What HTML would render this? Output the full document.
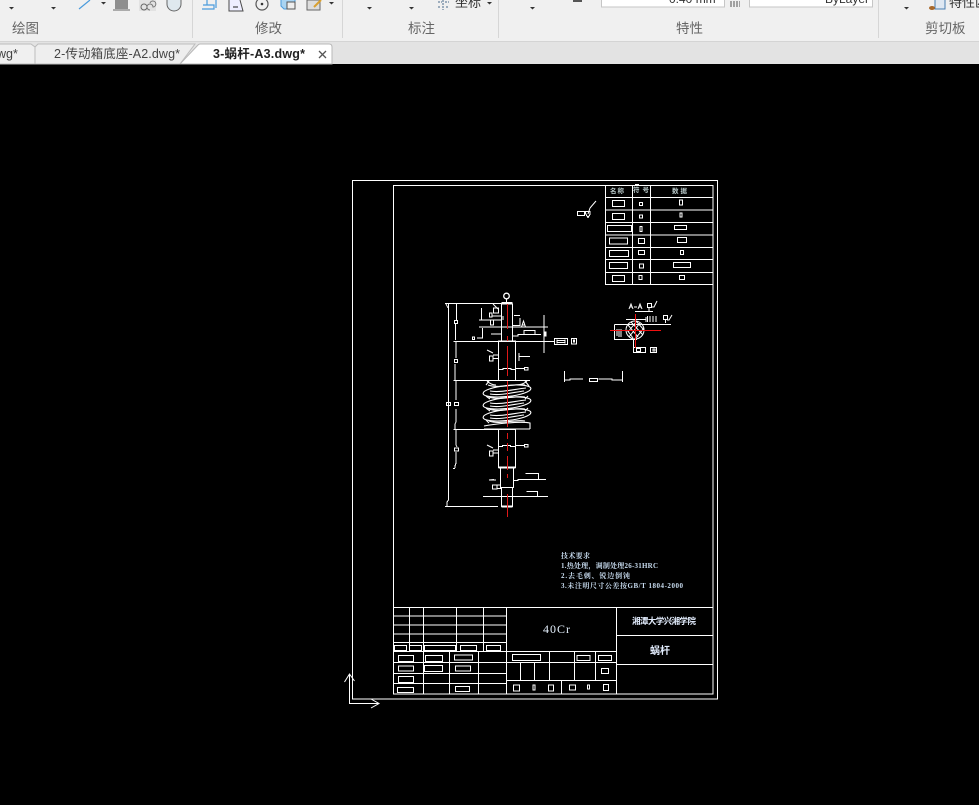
<!DOCTYPE html>
<html><head><meta charset="utf-8"><style>
html,body{margin:0;padding:0;width:979px;height:805px;overflow:hidden;background:#000}
svg{display:block}
text{font-family:"Liberation Sans","Noto Sans CJK SC",sans-serif}
text.s{font-family:"Liberation Serif","Noto Serif CJK SC",serif}
</style></head><body>
<svg xmlns="http://www.w3.org/2000/svg" width="979" height="805" viewBox="0 0 979 805">
<rect width="979" height="805" fill="#000"/>
<!-- ribbon -->
<rect width="979" height="41" fill="#f0f0f0"/>
<rect y="41" width="979" height="1" fill="#d4d4d4"/>
<rect y="42" width="979" height="22" fill="#e3e3e3"/>
<g stroke="#d6d6d6" stroke-width="1" shape-rendering="crispEdges">
<path d="M192.500 0V38M342.500 0V38M498.500 0V38M878.500 0V38"/>
</g>
<g fill="#666" font-size="13.500">
<text x="12" y="33">绘图</text><text x="255" y="33">修改</text><text x="408" y="33">标注</text><text x="676" y="33">特性</text><text x="925" y="33">剪切板</text>
</g>
<g fill="#333">
<path d="M9 7h5l-2.500 2.500zM51 7h5l-2.500 2.500zM101 2h5l-2.500 2.500zM329 2h5l-2.500 2.500zM367 7h5l-2.500 2.500zM409 7h5l-2.500 2.500zM530 7h5l-2.500 2.500zM904 7h5l-2.500 2.500zM487 2h5l-2.500 2.500z"/>
</g>
<!-- ribbon icons -->
<path d="M79 9L90 0" stroke="#4a9bdc" stroke-width="1.200" fill="none"/>
<rect x="115" y="0" width="13" height="9" fill="#8e8e8e"/>
<path d="M113 10h17" stroke="#666"/>
<rect x="139" y="0" width="17" height="11" fill="#e2e2e2"/>
<circle cx="144" cy="7" r="3" fill="none" stroke="#666"/>
<path d="M150 3a3 3 0 1 1 3 4a3 3 0 1 0 -3 3" fill="none" stroke="#777"/>
<path d="M167 0v4a7 7 0 0 0 14 0v-4" fill="#dfe8ee" stroke="#666"/>
<path d="M203 5h11v4h-12M207 0v5M216 0v8" stroke="#4a9bdc" fill="none" stroke-width="1.200"/>
<path d="M229 0v11h14l-3-11" fill="#eef" stroke="#4a4a4a"/><path d="M233 7h5" stroke="#222"/>
<circle cx="262" cy="4" r="6" fill="none" stroke="#555" stroke-width="1.200"/><circle cx="262" cy="4" r="1.300" fill="#333"/>
<path d="M281 0v6l3 3h11v-9" fill="#a9d4f2" stroke="#4a9bdc"/>
<rect x="287" y="2" width="8" height="7" fill="#eee" stroke="#555"/>
<rect x="307" y="0" width="13" height="10" fill="#ddd" stroke="#666"/><path d="M314 7l7-7" stroke="#d9a030" stroke-width="2"/>
<path d="M438 2h4M445 2h4M438 7h3M446 7h3M443 0v10" stroke="#4a6a8a" stroke-dasharray="2 1" fill="none"/>
<text x="455" y="7" font-size="13" fill="#333">坐标</text>
<rect x="573" y="0" width="9" height="2" fill="#555"/>
<!-- inputs -->
<rect x="601.500" y="-3" width="123" height="10" fill="#fff" stroke="#c6c6c6"/>
<rect x="749.500" y="-3" width="123" height="10" fill="#fff" stroke="#c6c6c6"/>
<text x="669" y="3" font-size="12" fill="#333">0.40 mm</text>
<text x="825" y="3" font-size="12" fill="#333">ByLayer</text>
<path d="M730 2h10M730 4h10M730 6h10" stroke="#555" stroke-dasharray="2 1"/>
<rect x="935" y="-1" width="10" height="10" fill="#dfe8f2" stroke="#4a7eb0"/>
<ellipse cx="932" cy="8" rx="3" ry="2" fill="#a8682a"/>
<text x="949" y="7" font-size="13" fill="#333">特性匹配</text>
<!-- tabs -->
<path d="M-2 64V44H31l4 3V64z" fill="#f0f0f0" stroke="#bdbdbd"/>
<path d="M35 64V47l3-3H195l-15 20z" fill="#eeeeee" stroke="#bdbdbd"/>
<path d="M180 64L198 45q1-1 2-1H329q3 0 3 3V64z" fill="#fff" stroke="#b8b8b8"/>
<text x="-3" y="58" font-size="12.500" fill="#444">wg*</text>
<text x="54" y="58" font-size="12.500" fill="#444" textLength="126">2-传动箱底座-A2.dwg*</text>
<text x="213" y="58" font-size="12.500" fill="#222" font-weight="bold" textLength="92">3-蜗杆-A3.dwg*</text>
<path d="M319 51l7 7M326 51l-7 7" stroke="#555" stroke-width="1.300"/>

<!-- frames -->
<g fill="none" stroke="#fff" stroke-width="1" shape-rendering="crispEdges">
<rect x="352.500" y="180.500" width="365" height="518.500"/>
<rect x="393.500" y="185.500" width="319.500" height="508.500"/>
<!-- parts table -->
<path d="M605.500 185.500V284.500H713M605.500 197.500H713M605.500 210H713M605.500 222.500H713M605.500 235H713M605.500 247.500H713M605.500 259.500H713M605.500 272.500H713M632.500 185.500V284.500M650.500 185.500V284.500"/>
<rect x="612.500" y="200.500" width="12" height="6"/><rect x="612.500" y="213.500" width="12" height="6"/><rect x="607.500" y="225.500" width="24" height="6"/><rect x="609.500" y="238" width="18" height="6"/><rect x="609.500" y="250.500" width="19" height="6"/><rect x="609.500" y="262.500" width="18" height="6"/><rect x="612.500" y="275.500" width="12" height="6"/>
<rect x="639.500" y="202.500" width="3" height="3"/><rect x="639.500" y="215" width="3" height="3"/><rect x="640" y="226.500" width="2" height="5"/><rect x="638.500" y="238.500" width="6" height="5"/><rect x="638.500" y="250.500" width="6" height="4"/><rect x="639.500" y="264" width="4" height="4"/><rect x="639" y="275.500" width="3" height="4"/>
<rect x="679.500" y="200" width="3" height="5"/><rect x="680" y="213" width="2" height="4"/><rect x="674.500" y="225.500" width="12" height="4"/><rect x="677.500" y="237.500" width="9" height="5"/><rect x="680.500" y="250.500" width="3" height="4"/><rect x="673.500" y="262.500" width="17" height="5"/><rect x="679.500" y="275.500" width="5" height="4"/>
<rect x="577.500" y="211.500" width="7" height="4"/><path d="M585 211.500h5v3l-2 3l-2-3z"/>

<!-- title block -->
<path d="M393.500 607.500H713M506.500 607.500V694M616.500 607.500V694M393.500 616H506.500M393.500 625H506.500M393.500 634H506.500M393.500 642.500H506.500M393.500 651.500H616.500M409.500 607.500V651.500M423.500 607.500V694M456.500 607.500V651.500M483.500 607.500V651.500"/>
<path d="M393.500 662.500H616.500M393.500 673.500H506.500M393.500 683.500H506.500M449.500 651.500V694M478.500 651.500V694M506.500 680.500H616.500M549.500 651.500V680.500M574.500 651.500V680.500M595.500 651.500V680.500M520.500 662.500V680.500M534.500 662.500V680.500M561.500 680.500V694M616.500 635.500H713M616.500 664.500H713"/>
<rect x="394.500" y="645.500" width="12" height="5"/><rect x="409.500" y="645.500" width="12" height="5"/><rect x="424.500" y="645.500" width="31" height="5"/><rect x="460.500" y="645.500" width="16" height="5"/><rect x="486.500" y="645.500" width="14" height="5"/>
<rect x="398.500" y="655.500" width="15" height="6"/><rect x="425.500" y="655.500" width="17" height="6"/><rect x="454.500" y="655" width="18" height="5"/>
<rect x="398.500" y="666" width="15" height="5"/><rect x="424.500" y="665.500" width="18" height="6"/><rect x="455.500" y="666" width="15" height="5"/>
<rect x="398.500" y="676.500" width="15" height="6"/>
<rect x="397.500" y="687.500" width="16" height="5"/><rect x="455.500" y="686.500" width="14" height="5"/>
<rect x="512.500" y="654.500" width="28" height="6"/><rect x="577" y="655.500" width="13" height="5"/><rect x="598.500" y="655.500" width="13" height="5"/><rect x="601.500" y="668.500" width="7" height="5"/>
<rect x="513.500" y="685" width="6" height="6"/><rect x="533" y="685" width="2" height="5"/><rect x="548.500" y="685" width="5" height="6"/><rect x="569.500" y="685" width="6" height="5"/><rect x="587.500" y="685" width="2" height="4"/><rect x="603.500" y="684.500" width="5" height="6"/>
</g>
<text class="s" x="543" y="633" font-size="12" fill="#e6f2ff" letter-spacing="1">40Cr</text>
<text x="632" y="624" font-size="8.500" fill="#e4eeff" font-weight="bold" textLength="64">湘潭大学兴湘学院</text>
<text x="650" y="654" font-size="10" fill="#e4eeff" font-weight="bold" textLength="20">蜗杆</text>
<g font-size="6.500" fill="#bcc" font-weight="bold">
<text x="610" y="193" textLength="14">名称</text><text x="633" y="192" textLength="16">符号</text><text x="672" y="193" textLength="15">数据</text>
</g>
<rect x="635" y="184" width="4" height="1" fill="#fff"/>
<!-- tech notes -->
<g font-size="7" fill="#c8dcf0" font-weight="bold">
<text class="s" x="561" y="558" textLength="29">技术要求</text>
<text class="s" x="561" y="568" textLength="97">1.热处理，调制处理26-31HRC</text>
<text class="s" x="561" y="578" textLength="69">2.去毛刺、锐边倒钝</text>
<text class="s" x="561" y="588" textLength="122">3.未注明尺寸公差按GB/T 1804-2000</text>
</g>

<!-- worm shaft -->
<g fill="none" stroke="#fff" stroke-width="1" shape-rendering="crispEdges">
<path d="M445 303.500H501.500M501.500 304H512.500V341H501.500zM498.500 341H515.500V380.500H498.500zM453.500 341.500H554M453.500 380.500H530M453.500 429.500H498.500M498.500 429.500V467.500H515.500V429.500M516 429.500H498M500.500 468V487.500H513.500V468M501.500 487.500V506.500H512.500V487.500M445 506.500H498M483 496.500H548"/>
<path d="M448.500 304V500L447 502V506.500M446 304l2 4M456.500 304V320M455.500 324V340M456 342V358M455 364V380M456 381V400M456 409V422L455 424V429M456 430V445L457 447M456 452V463L455 466V468M453 468.500H455"/>
<rect x="454.500" y="320.500" width="3" height="3" stroke-width="1"/><rect x="454.500" y="359.500" width="3" height="3"/>
<rect x="446.500" y="402.500" width="4" height="3"/><rect x="454.500" y="402.500" width="4" height="3"/><rect x="454.500" y="448" width="4" height="3"/>
<!-- annotations top -->
<path d="M481.500 308V320M479 320H501M479 327H548M482.500 328V338H477M491 334H501M492 316H501M503 316V320M493.500 308H498.500V313H493.500zM489.500 313H492V317H489.500zM490.500 320H493.500V325H490.500zM472.500 337H474.500V339.500H472.500z"/>
<path d="M514 315.500H520M520 318V325.500H513M513 336H518V334.500H541M524 334V330.500H535V334M544 315V353"/>
<rect x="544" y="332" width="2" height="4" fill="#fff"/>
<path d="M554.500 338.500H567.500V344.500H554.500zM557 339.500V343.500M565 339.500V343.500M557 340.500H565M557 342.500H565"/>
<path d="M519 353V361M519 356.500H530M515.500 368.500H524M524.500 367.500H528V370H524.500zM489.500 356H493V361H489.500zM493 355H498M493 358.500H498"/>
<path d="M498.500 369.500H503V368.500H511V369.500H515.500" />
<path d="M515.500 445.500H524M524.500 444.500H528V447H524.500zM489.500 451H493V456H489.500zM493 450H498M493 453H498M498.500 446.500H502.500V445.500H510.500V446.500H515.500M489 480H496M492.500 485H497V489H492.500zM497 485H501M497 488.500H501"/>
<path d="M513.500 480.500H518V479.500H546M525.500 473.500H538.500V479M526.500 491.500H537.500V496"/>
</g>
<g stroke="#fff" stroke-width="2" fill="none" shape-rendering="crispEdges">
<path d="M501.500 303H512.500M498.500 467.500H515.500M501.500 506.500H512.500"/>
</g>
<circle cx="506.500" cy="296" r="2.800" fill="none" stroke="#fff" stroke-width="1.300"/><path d="M506.500 299v3" stroke="#fff"/>
<g stroke="#fff" stroke-width="1" fill="none">
<path d="M493 304l5 5M487 350l6 3M487 445l6 3M489 480l5-0.500"/>
<path d="M521.500 327l2-6l2 6M522 325h3"/>
<path d="M590 208l-2 6M590 208l6-7"/>
</g>
<!-- worm threads -->
<g fill="none" stroke="#fff" stroke-width="1.100">
<path d="M487 381C490 384 493 385 496 385M527 381C524 384 520 385 516 385"/>
<ellipse cx="507" cy="391" rx="24" ry="5.500" transform="rotate(-6 507 391)"/>
<ellipse cx="507" cy="403" rx="24" ry="5.500" transform="rotate(-6 507 403)"/>
<ellipse cx="507" cy="415" rx="24" ry="5.500" transform="rotate(-6 507 415)"/>
<path d="M488 385C500 389 515 383 525 385M489 397C500 401 515 395 525 397M489 409C500 413 515 407 525 409M489 421C500 425 515 419 525 421"/>
<path d="M490 391C500 393 515 389 526 388M490 394C500 396 515 392 524 391M490 403C500 405 515 401 526 400M490 406C500 408 515 404 524 403M490 415C500 417 515 413 526 412M490 418C500 420 515 416 524 415"/>
<path d="M484 426C494 424 520 421 530 423V429M484 429H530M489 381L486 385M525 381L529 386M486 396L490 399M528 396L525 399M486 408L490 411M528 408L525 411M486 420L489 423"/>
</g>
<path d="M507.500 304V341M507.500 346V376M507.500 381V427M507.500 433V439M507.500 443V451M507.500 456V470M507.500 474V478M507.500 494V517" stroke="#e01818" stroke-width="1" shape-rendering="crispEdges" fill="none"/>
<path d="M507.500 329V336" stroke="#000" stroke-width="1" shape-rendering="crispEdges"/>

<!-- section A-A -->
<g fill="none" stroke="#fff" stroke-width="1" shape-rendering="crispEdges">
<path d="M564.500 371V382M564.500 380H570V379H583M598.500 379H612V380H622.500M622.500 371V382"/>
<rect x="589.500" y="378.500" width="8" height="3"/>
<path d="M571.500 338.500H576.500V344H571.500zM573.500 340H574.500V342H573.500z"/>
<path d="M635 311.500H653M626 319.500H646M646 317V322M647.500 316V322M650 316V322M653 316V322M656 316V322M637 324.500H671M614.500 324.500H637M614.500 324.500V339.500H637M617 329V336M619 329V337M621 329V337M633.500 339V352"/>
<rect x="633.500" y="347.500" width="12" height="5"/>
<rect x="636.500" y="348.500" width="4" height="3"/>
<path d="M650.500 347.500H656.500V352.500H650.500zM653 349H655V351H653z"/>
<rect x="647.500" y="303.500" width="4" height="4"/>
<rect x="663.500" y="315.500" width="4" height="4"/>
<path d="M665.500 320V323M649 308V311"/>
</g>
<g fill="none" stroke="#fff" stroke-width="1">
<circle cx="635" cy="330" r="9"/>
<path d="M628 325L638 337M627 330L633 338M631 322L643 335M636 321L644 330M629 337L640 323M628 332L636 322M635 339L644 328"/>
<path d="M629 309l2-5l2 5M630 307h2M634 307h3M638 309l2-5l2 5M639 307h2M652 307H654L657 301M667 320H669L672 315"/>
</g>
<path d="M610 330.500H661M635.500 314V348" stroke="#f01010" stroke-width="1" shape-rendering="crispEdges"/>

<!-- UCS -->
<g fill="none" stroke="#fff" stroke-width="1">
<path d="M349.500 674V703.500H378M344.500 682L349.500 674L354.500 681M371 699L379 703.500L371 708"/>
</g>
</svg>
</body></html>
